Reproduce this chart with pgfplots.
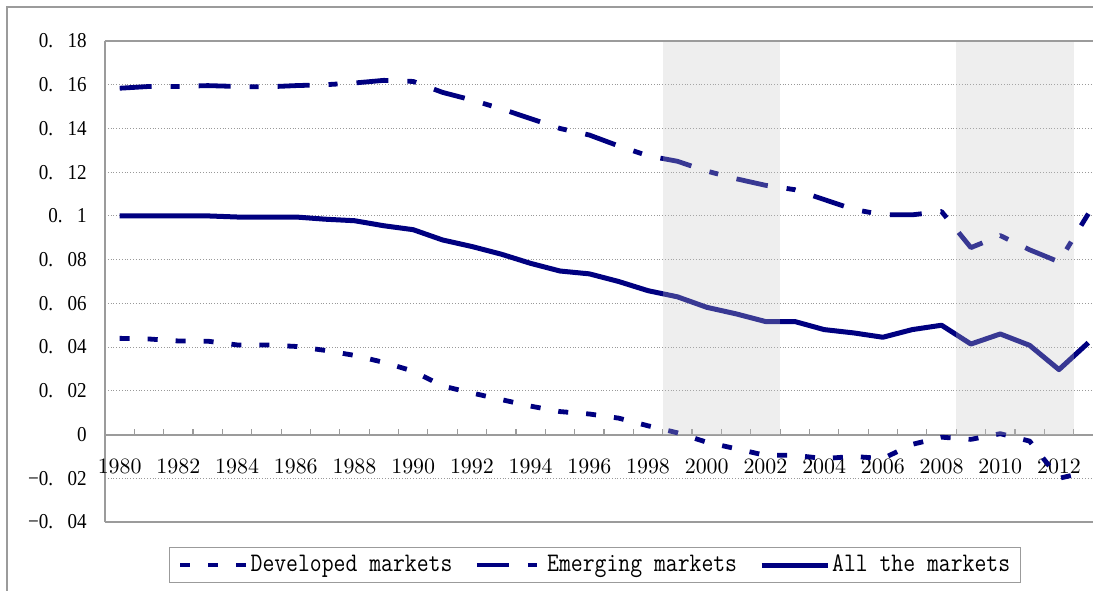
\documentclass[border=0pt]{standalone}
\usepackage{fontspec}
\usepackage{pgfplots}
\pgfplotsset{compat=1.18}
\newfontfamily\tickfont[FakeStretch=0.9]{Liberation Serif}
\newfontfamily\legfont[FakeStretch=0.86]{Latin Modern Mono}
\newcommand{\dd}{\rlap{.}\hphantom{0}\hphantom{0}}
\definecolor{navy}{RGB}{0,0,128}
\definecolor{framegray}{RGB}{155,155,155}

\pgfplotstableread{
year dev
1980 0.0440
1981 0.0437
1982 0.0428
1983 0.0427
1984 0.0410
1985 0.0410
1986 0.0403
1987 0.0385
1988 0.0362
1989 0.0330
1990 0.0290
1991 0.0222
1992 0.0190
1993 0.0160
1994 0.0130
1995 0.0105
1996 0.0094
1997 0.0075
1998 0.0040
1999 0.0008
2000 -0.0035
2001 -0.0065
2002 -0.0095
2003 -0.0095
2004 -0.0110
2005 -0.0100
2006 -0.0110
2007 -0.0045
2008 -0.0012
2009 -0.0022
2010 0.0004
2011 -0.0030
2012 -0.0200
2013 -0.0170
}\devtab

\pgfplotstableread{
year emg
1980 0.1584
1981 0.1592
1982 0.1592
1983 0.1596
1984 0.1592
1985 0.1590
1986 0.1596
1987 0.1600
1988 0.1608
1989 0.1620
1990 0.1615
1991 0.1565
1992 0.1530
1993 0.1490
1994 0.1445
1995 0.1400
1996 0.1370
1997 0.1320
1998 0.1275
1999 0.1250
2000 0.1205
2001 0.1170
2002 0.1140
2003 0.1120
2004 0.1075
2005 0.1030
2006 0.1005
2007 0.1005
2008 0.1020
2009 0.0855
2010 0.0910
2011 0.0845
2012 0.0790
2013 0.1010
}\emgtab

\pgfplotstableread{
year all
1980 0.1000
1981 0.1000
1982 0.1000
1983 0.1000
1984 0.0995
1985 0.0995
1986 0.0995
1987 0.0985
1988 0.0978
1989 0.0955
1990 0.0937
1991 0.0890
1992 0.0860
1993 0.0825
1994 0.0783
1995 0.0748
1996 0.0735
1997 0.0700
1998 0.0658
1999 0.0630
2000 0.0582
2001 0.0552
2002 0.0517
2003 0.0517
2004 0.0480
2005 0.0465
2006 0.0445
2007 0.0480
2008 0.0500
2009 0.0414
2010 0.0460
2011 0.0408
2012 0.0297
2013 0.0420
}\alltab

\begin{document}
\begin{tikzpicture}
\begin{axis}[
  scale only axis,
  width=499pt, height=240.5pt,
  xmin=1979.5, xmax=2013.5,
  ymin=-0.04, ymax=0.18,
  clip=false,
  axis x line*=middle,
  axis y line*=left,
  x axis line style={framegray, line width=1pt},
  y axis line style={framegray, line width=1pt},
  ytick={-0.04,-0.02,0,0.02,0.04,0.06,0.08,0.1,0.12,0.14,0.16,0.18},
  yticklabels={−0\dd04,−0\dd02,0,0\dd02,0\dd04,0\dd06,0\dd08,0\dd1,0\dd12,0\dd14,0\dd16,0\dd18},
  ytick style={draw=none},
  yticklabel style={anchor=east, inner sep=0pt, xshift=-9pt, font=\tickfont\fontsize{10.6}{12}\selectfont},
  ymajorgrids=true,
  grid style={densely dotted, gray!80, line width=0.5pt},
  xtick={1980.5,1981.5,1982.5,1983.5,1984.5,1985.5,1986.5,1987.5,1988.5,1989.5,1990.5,1991.5,1992.5,1993.5,1994.5,1995.5,1996.5,1997.5,1998.5,1999.5,2000.5,2001.5,2002.5,2003.5,2004.5,2005.5,2006.5,2007.5,2008.5,2009.5,2010.5,2011.5,2012.5},
  xticklabels={},
  xtick align=inside,
  major x tick style={draw=framegray, line width=0.6pt},
  major tick length=3pt,
  extra x ticks={1980,1982,...,2012},
  extra x tick style={major tick length=0pt, tick style={draw=none}},
  xticklabel style={/pgf/number format/1000 sep={}, anchor=north, inner sep=0pt, yshift=-12pt, font=\tickfont\fontsize{10.6}{12}\selectfont},
  legend columns=3,
  legend style={at={(0.491,-0.0894)}, anchor=center, draw=framegray, line width=0.6pt,
    font=\legfont\fontsize{13.4}{14}\selectfont,
    /tikz/every even column/.append style={column sep=10pt},
    inner xsep=4pt, inner ysep=2pt, nodes={inner xsep=1pt}},
  legend image code/.code={\draw[#1] (0pt,0pt) -- (33pt,0pt);},
]
\addplot[navy, line width=2.4pt, line join=round, dash pattern=on 5pt off 9pt] table[x=year,y=dev] {\devtab};
\addlegendentry{Developed markets}
\addplot[navy, line width=2.4pt, line join=round, dash pattern=on 16pt off 9.5pt on 4.5pt off 9.5pt] table[x=year,y=emg] {\emgtab};
\addlegendentry{Emerging markets}
\addplot[navy, line width=2.5pt, line join=round] table[x=year,y=all] {\alltab};
\addlegendentry{All the markets}
\fill[black!23, opacity=0.29] (axis cs:1998.5,0) rectangle (axis cs:2002.5,0.18);
\fill[black!23, opacity=0.29] (axis cs:2008.5,0) rectangle (axis cs:2012.5,0.18);
\draw[framegray, line width=1pt] (rel axis cs:0,1) -- (rel axis cs:1,1);
\draw[framegray, line width=1pt] (rel axis cs:0,0) -- (rel axis cs:1,0);
\end{axis}
\draw[framegray, line width=0.75pt] (-49pt,-40pt) -- (-49pt,257.5pt) -- (500pt,257.5pt);
\pgfresetboundingbox
\useasboundingbox (-52.5pt,-34pt) rectangle (494pt,261pt);
\end{tikzpicture}
\end{document}
